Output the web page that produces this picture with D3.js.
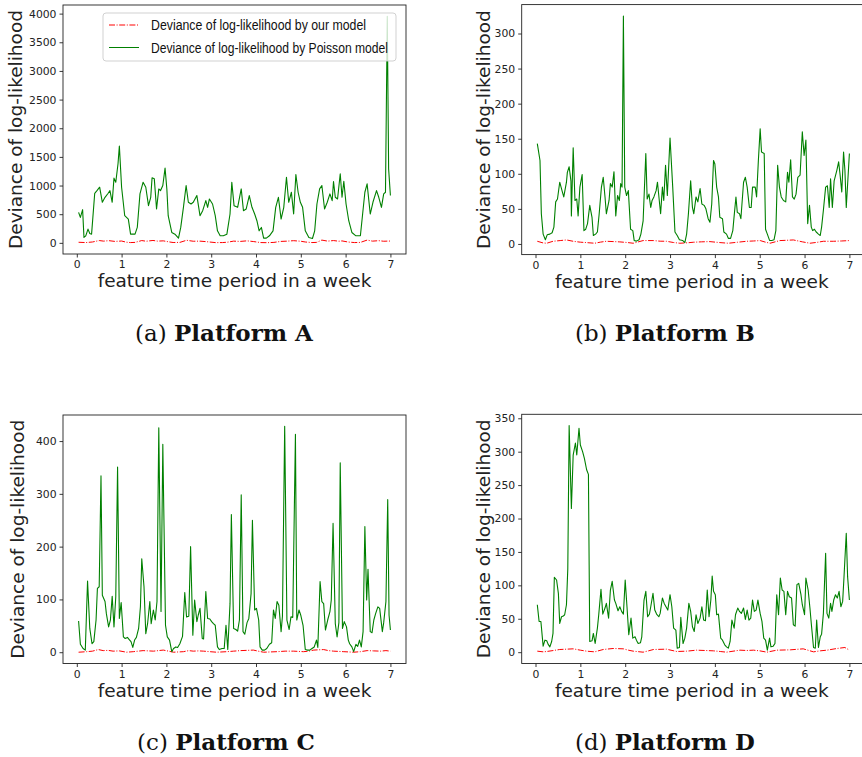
<!DOCTYPE html>
<html><head><meta charset="utf-8">
<script src="https://cdn.jsdelivr.net/npm/d3@7"></script>
<style>body{margin:0;background:#fff}</style>
</head><body>
<svg id="c" width="862" height="757" xmlns="http://www.w3.org/2000/svg"></svg>
<script>
// ---------------- data ----------------
const xTicks = [0,1,2,3,4,5,6,7];
const yTicksA = [0,500,1000,1500,2000,2500,3000,3500,4000];
const yTicksB = [0,50,100,150,200,250,300];
const yTicksC = [0,100,200,300,400];
const yTicksD = [0,50,100,150,200,250,300,350];
const legendLabels = ["Deviance of log-likelihood by our model","Deviance of log-likelihood by Poisson model"];
const xLabel = "feature time period in a week";
const yLabel = "Deviance of log-likelihood";
const captionPrefix = ["(a) ","(b) ","(c) ","(d) "];
const captionName = ["Platform A","Platform B","Platform C","Platform D"];

// Platform A
const aPoissonX = [0.04,0.08,0.13,0.16,0.20,0.25,0.29,0.33,0.40,0.45,0.51,0.57,0.63,0.70,0.74,0.79,0.83,0.87,0.92,0.95,1.00,1.07,1.15,1.20,1.30,1.35,1.41,1.48,1.54,1.60,1.65,1.68,1.73,1.78,1.83,1.87,1.92,1.97,2.01,2.04,2.12,2.19,2.27,2.32,2.38,2.44,2.49,2.55,2.60,2.68,2.75,2.81,2.88,2.92,2.96,3.03,3.09,3.14,3.20,3.27,3.35,3.42,3.46,3.51,3.59,3.67,3.72,3.78,3.85,3.91,3.97,4.02,4.07,4.12,4.17,4.23,4.30,4.38,4.44,4.50,4.56,4.62,4.68,4.73,4.79,4.84,4.89,4.94,4.99,5.04,5.10,5.18,5.26,5.31,5.36,5.42,5.47,5.53,5.59,5.65,5.70,5.73,5.77,5.82,5.88,5.92,5.96,6.01,6.07,6.14,6.23,6.33,6.38,6.43,6.48,6.55,6.61,6.69,6.74,6.80,6.85,6.89,6.93,6.96,7.00];
const aPoisson = [532,444,579,94,123,240,164,152,865,912,971,708,795,865,912,708,1129,1058,1380,1690,971,474,415,152,152,269,854,1058,971,649,795,1134,1117,590,941,912,1000,1304,941,474,181,152,82,269,620,1000,708,678,708,825,474,561,737,620,766,678,474,210,123,123,152,503,1058,649,620,941,561,590,825,620,503,386,210,269,82,82,123,210,620,795,415,620,1146,708,883,503,1193,883,708,620,210,94,76,210,678,941,1000,590,708,854,737,1070,795,766,1205,795,1076,678,386,181,123,123,503,883,1029,503,708,912,795,620,854,883,3953,1292,825];
const aOurX = [0.04,0.2,0.35,0.5,0.6,0.72,0.85,1.0,1.1,1.2,1.3,1.45,1.55,1.7,1.8,1.93,2.05,2.15,2.3,2.45,2.6,2.75,2.9,3.1,3.25,3.35,3.5,3.65,3.8,3.95,4.1,4.25,4.4,4.55,4.7,4.84,5.0,5.1,5.25,5.35,5.47,5.6,5.73,5.85,5.92,6.05,6.2,6.33,6.48,6.6,6.74,6.85,7.0];
const aOur = [10,5,15,40,30,38,25,32,12,5,8,40,28,42,30,35,18,6,8,45,28,30,20,4,5,10,30,25,35,22,5,3,8,25,30,38,28,15,5,8,48,30,40,28,34,15,5,8,48,30,38,28,32];

// Platform B
const bPoissonX = [0.04,0.10,0.13,0.17,0.22,0.26,0.32,0.37,0.41,0.45,0.49,0.54,0.60,0.63,0.69,0.71,0.75,0.79,0.80,0.84,0.88,0.92,0.95,0.99,1.04,1.08,1.12,1.16,1.21,1.26,1.29,1.34,1.38,1.42,1.47,1.51,1.55,1.58,1.64,1.67,1.71,1.75,1.79,1.83,1.87,1.90,1.93,1.96,1.99,2.03,2.07,2.12,2.17,2.20,2.25,2.31,2.35,2.40,2.46,2.49,2.53,2.57,2.60,2.64,2.69,2.72,2.76,2.79,2.83,2.86,2.90,2.94,3.00,3.06,3.11,3.16,3.21,3.28,3.33,3.37,3.41,3.46,3.50,3.53,3.58,3.62,3.67,3.71,3.76,3.80,3.85,3.89,3.93,3.97,4.00,4.04,4.08,4.11,4.17,4.20,4.26,4.30,4.35,4.40,4.43,4.47,4.50,4.55,4.58,4.64,4.68,4.72,4.77,4.81,4.84,4.90,4.93,4.97,5.01,5.04,5.10,5.13,5.17,5.22,5.27,5.32,5.36,5.40,5.44,5.48,5.53,5.58,5.62,5.65,5.69,5.73,5.77,5.81,5.85,5.90,5.95,5.99,6.03,6.07,6.11,6.15,6.18,6.22,6.26,6.31,6.35,6.38,6.42,6.47,6.51,6.55,6.58,6.62,6.66,6.72,6.76,6.79,6.83,6.87,6.90,6.93,7.00];
const bPoisson = [143,119,43,14,6,13,14,16,24,60,64,88,74,67,88,102,110,90,40,137,62,64,40,81,99,19,21,29,55,38,12,14,17,43,81,95,67,43,62,86,81,103,40,69,62,86,81,325,81,69,76,21,19,5,4,6,14,33,129,64,71,52,62,67,76,88,62,43,81,62,112,69,151,81,17,12,6,5,2,14,43,90,52,43,67,60,79,57,55,50,36,31,57,119,114,81,67,38,36,17,14,8,8,19,40,67,45,43,36,88,95,81,52,52,81,81,67,119,164,131,129,21,14,5,5,6,19,112,81,67,62,60,102,88,120,67,64,71,95,98,160,126,148,29,55,24,19,21,17,14,12,24,48,81,83,52,93,52,90,105,117,100,74,131,105,52,129];
const bOurX = [0.04,0.17,0.25,0.39,0.55,0.69,0.84,1.0,1.14,1.32,1.45,1.58,1.75,1.88,2.05,2.18,2.4,2.63,2.78,2.92,3.08,3.22,3.38,3.52,3.7,3.89,4.1,4.3,4.5,4.71,4.86,5.01,5.13,5.23,5.45,5.6,5.75,5.95,6.12,6.27,6.42,6.64,6.82,7.0];
const bOur = [3.8,1.4,1.0,3.8,4.8,5.7,3.8,2.5,1.9,1.0,2.6,3.8,3.3,2.9,2.0,1.0,4.8,4.8,3.9,3.8,2.0,1.0,1.6,2.4,3.0,3.3,2.0,1.0,2.4,3.8,4.2,4.8,2.5,1.0,4.8,5.2,5.7,3.0,1.0,2.2,3.8,3.8,4.2,4.8];

// Platform C
const cPoissonX = [0.04,0.08,0.14,0.19,0.24,0.29,0.34,0.38,0.43,0.46,0.50,0.54,0.57,0.63,0.66,0.71,0.75,0.79,0.83,0.87,0.91,0.95,0.99,1.04,1.08,1.13,1.17,1.21,1.25,1.29,1.33,1.38,1.42,1.45,1.50,1.54,1.58,1.63,1.66,1.71,1.75,1.79,1.83,1.88,1.92,1.98,2.02,2.07,2.12,2.16,2.21,2.25,2.30,2.36,2.41,2.45,2.50,2.54,2.59,2.63,2.68,2.71,2.75,2.80,2.83,2.88,2.92,2.97,3.01,3.05,3.09,3.14,3.18,3.24,3.29,3.33,3.37,3.42,3.45,3.50,3.55,3.59,3.63,3.67,3.71,3.75,3.80,3.84,3.89,3.92,3.97,4.01,4.06,4.09,4.14,4.19,4.24,4.30,4.35,4.39,4.43,4.47,4.51,4.56,4.59,4.64,4.69,4.74,4.78,4.82,4.88,4.91,4.96,5.00,5.05,5.10,5.15,5.20,5.25,5.30,5.35,5.38,5.43,5.47,5.51,5.55,5.60,5.65,5.68,5.72,5.77,5.81,5.85,5.88,5.93,5.97,6.02,6.06,6.09,6.14,6.18,6.23,6.27,6.31,6.35,6.39,6.43,6.47,6.50,6.55,6.59,6.63,6.67,6.72,6.76,6.82,6.85,6.90,6.94,6.97,7.00];
const cPoisson = [59,15,7,4,135,45,16,20,61,121,124,334,108,96,73,48,61,106,48,105,351,64,94,29,26,28,24,20,9,23,28,45,86,177,124,35,54,96,54,80,61,96,425,77,394,51,29,23,1,7,10,9,16,30,113,67,68,200,32,99,58,70,83,26,25,115,64,63,58,54,51,10,5,7,7,51,5,92,261,45,43,40,61,298,39,34,56,64,111,250,80,83,61,10,4,4,7,15,18,80,64,96,89,39,68,428,61,43,67,66,413,61,80,70,51,5,4,4,7,10,23,9,134,96,92,42,61,77,99,244,54,29,56,359,45,58,48,23,16,10,1,15,11,23,10,39,238,99,157,39,37,61,73,86,83,39,56,96,289,70,42];
const cOurX = [0.04,0.22,0.35,0.48,0.59,0.7,0.81,0.95,1.11,1.26,1.37,1.48,1.6,1.71,1.82,1.93,2.05,2.16,2.38,2.5,2.6,2.72,2.83,2.97,3.12,3.35,3.5,3.65,3.8,3.94,4.05,4.17,4.47,4.65,4.84,5.06,5.18,5.29,5.51,5.62,5.73,5.96,6.18,6.33,6.48,6.62,6.78,6.9,7.0];
const cOur = [0,1,2,5,3,3.5,2,2.5,0,1,2,3,2.5,2,3,4,2,0,1,3,2,2.5,2,1,0,1,2,3,3.5,4,2,0,1,2,2,1,2,4,5,3,2,1,0,1,3,2.5,2,3,2];

// Platform D
const dPoissonX = [0.04,0.08,0.12,0.17,0.21,0.25,0.28,0.32,0.36,0.39,0.42,0.47,0.51,0.54,0.58,0.62,0.65,0.69,0.72,0.75,0.80,0.84,0.89,0.92,0.97,1.00,1.05,1.09,1.14,1.18,1.21,1.26,1.29,1.33,1.38,1.41,1.46,1.50,1.55,1.58,1.63,1.67,1.71,1.76,1.79,1.84,1.88,1.92,1.96,2.00,2.04,2.08,2.13,2.17,2.22,2.25,2.29,2.34,2.37,2.42,2.46,2.50,2.54,2.57,2.62,2.66,2.70,2.75,2.78,2.83,2.87,2.91,2.95,3.00,3.04,3.08,3.13,3.16,3.21,3.24,3.29,3.33,3.37,3.42,3.46,3.50,3.54,3.58,3.62,3.67,3.71,3.75,3.79,3.83,3.87,3.91,3.94,3.97,4.01,4.04,4.08,4.13,4.17,4.22,4.26,4.30,4.34,4.38,4.43,4.46,4.51,4.55,4.59,4.64,4.68,4.72,4.76,4.80,4.84,4.88,4.92,4.96,5.01,5.05,5.09,5.13,5.17,5.22,5.25,5.30,5.34,5.38,5.42,5.46,5.50,5.54,5.58,5.62,5.66,5.71,5.75,5.79,5.83,5.87,5.92,5.95,6.00,6.03,6.08,6.12,6.15,6.20,6.24,6.27,6.31,6.35,6.38,6.42,6.47,6.50,6.54,6.58,6.61,6.65,6.69,6.73,6.77,6.81,6.85,6.88,6.93,6.96,7.00];
const dPoisson = [71,46,46,9,18,17,12,8,16,28,112,108,88,43,53,54,56,71,125,339,215,295,313,295,335,310,300,290,273,266,16,17,28,13,36,56,94,57,66,73,51,93,106,78,73,62,68,61,57,108,68,26,51,21,23,18,13,14,23,78,91,53,57,68,88,63,57,53,58,81,73,68,63,86,68,36,33,6,7,52,13,21,36,73,61,38,31,56,43,51,68,48,47,93,53,78,114,91,86,56,57,21,18,11,8,6,16,48,36,56,66,61,58,66,49,63,48,51,78,61,63,78,58,46,21,18,3,21,8,9,13,86,56,111,93,91,56,91,83,81,41,39,101,103,86,71,56,111,93,66,43,7,6,48,7,23,27,58,148,58,51,73,61,78,86,81,91,68,76,113,178,113,78];
const dOurX = [0.04,0.17,0.25,0.4,0.54,0.7,0.84,1.0,1.14,1.32,1.51,1.73,1.96,2.07,2.18,2.4,2.52,2.63,2.92,3.15,3.37,3.59,3.78,3.97,4.12,4.26,4.56,4.71,4.86,5.0,5.16,5.38,5.68,5.97,6.2,6.35,6.5,6.72,6.9,7.0];
const dOur = [1.5,0.5,1,2.5,4,4.5,5,3,1.5,0.5,4,5.5,5,3,1.5,0,2,4,4.5,1,1.5,3,2.5,2,1,0,3,2.5,3,2,0,3,3.5,5,0.5,2,3,5.5,7,3];

// ---------------- drawing ----------------
const svg = d3.select("#c");
const panels = [
  {x0:63,   x1:406, y0:5,     y1:254,   yTicks:yTicksA, px:aPoissonX, p:aPoisson, ox:aOurX, o:aOur, ylabX:22,  capX:224, capY:341, capW:178, legend:true},
  {x0:521.7,x1:865, y0:4.6,   y1:254.6, yTicks:yTicksB, px:bPoissonX, p:bPoisson, ox:bOurX, o:bOur, ylabX:490, capX:665, capY:341, capW:180},
  {x0:63,   x1:406, y0:415,   y1:663.5, yTicks:yTicksC, px:cPoissonX, p:cPoisson, ox:cOurX, o:cOur, ylabX:24,  capX:226, capY:750, capW:178},
  {x0:521.7,x1:865, y0:414.3, y1:663.5, yTicks:yTicksD, px:dPoissonX, p:dPoisson, ox:dOurX, o:dOur, ylabX:490, capX:665, capY:750, capW:180}
];
const axisColor = "#222";

panels.forEach((P, i) => {
  const allY = P.p.concat(P.o);
  const lo = d3.min(allY), hi = d3.max(allY), pad = (hi - lo) * 0.05;
  const x = d3.scaleLinear().domain([-0.308, 7.348]).range([P.x0, P.x1]);
  const y = d3.scaleLinear().domain([lo - pad, hi + pad]).range([P.y1, P.y0]);
  const g = svg.append("g");
  const clipId = "clip" + i;
  svg.append("clipPath").attr("id", clipId).append("rect")
    .attr("x", P.x0).attr("y", P.y0).attr("width", P.x1 - P.x0).attr("height", P.y1 - P.y0);

  const line = d3.line().x(d => x(d[0])).y(d => y(d[1]));
  const ourPts = P.ox.map((v, k) => [v, P.o[k]]);
  const poiPts = P.px.map((v, k) => [v, P.p[k]]);

  g.append("path").attr("clip-path", `url(#${clipId})`).attr("d", line(ourPts))
    .attr("fill", "none").attr("stroke", "#ff0000").attr("stroke-width", 1)
    .attr("stroke-dasharray", "6,1.6,1,1.6");
  g.append("path").attr("clip-path", `url(#${clipId})`).attr("d", line(poiPts))
    .attr("fill", "none").attr("stroke", "#008000").attr("stroke-width", 1.1)
    .attr("stroke-linejoin", "round");

  // axes
  const xa = g.append("g").attr("transform", `translate(0,${P.y1})`)
    .call(d3.axisBottom(x).tickValues(xTicks).tickSize(3.5).tickPadding(3).tickFormat(d3.format("d")));
  const ya = g.append("g").attr("transform", `translate(${P.x0},0)`)
    .call(d3.axisLeft(y).tickValues(P.yTicks).tickSize(3.5).tickPadding(3).tickFormat(d3.format("d")));
  [xa, ya].forEach(a => {
    a.select(".domain").remove();
    a.selectAll("line").attr("stroke", axisColor).attr("stroke-width", 0.9);
    a.selectAll("text").attr("fill", axisColor).style("font-family", "DejaVu Sans").style("font-size", "10.8px");
  });

  // frame
  g.append("rect").attr("x", P.x0).attr("y", P.y0).attr("width", P.x1 - P.x0).attr("height", P.y1 - P.y0)
    .attr("fill", "none").attr("stroke", axisColor).attr("stroke-width", 0.9);

  // labels
  g.append("text").attr("x", (P.x0 + P.x1) / 2 - (P.x0 > 400 ? 1.5 : 0)).attr("y", P.y1 + 33)
    .attr("text-anchor", "middle").style("font-family", "DejaVu Sans").style("font-size", "18.5px")
    .attr("fill", axisColor).text(xLabel);
  g.append("text").attr("transform", `translate(${P.ylabX},${(P.y0 + P.y1) / 2}) rotate(-90)`)
    .attr("text-anchor", "middle").style("font-family", "DejaVu Sans").style("font-size", "18.5px")
    .attr("fill", axisColor).text(yLabel);

  // caption
  const cap = svg.append("text").attr("x", P.capX).attr("y", P.capY).attr("text-anchor", "middle")
    .style("font-family", "DejaVu Serif").style("font-size", "21px").attr("fill", "#111");
  cap.append("tspan").text(captionPrefix[i]);
  cap.append("tspan").style("font-weight", "bold").text(captionName[i]);
  const w = cap.node().getComputedTextLength();
  cap.style("font-size", (21 * P.capW / w) + "px");

  if (P.legend) {
    const lg = svg.append("g");
    lg.append("rect").attr("x", 103).attr("y", 13).attr("width", 293).attr("height", 48).attr("rx", 3)
      .attr("fill", "#fff").attr("fill-opacity", 0.8).attr("stroke", "#cccccc").attr("stroke-width", 0.9);
    const rows = [
      {y: 25, color: "#ff0000", dash: "6,1.6,1,1.6", text: legendLabels[0], len: 215},
      {y: 47.5, color: "#008000", dash: null, text: legendLabels[1], len: 237}
    ];
    rows.forEach(r => {
      lg.append("line").attr("x1", 109).attr("x2", 139).attr("y1", r.y).attr("y2", r.y)
        .attr("stroke", r.color).attr("stroke-width", 1).attr("stroke-dasharray", r.dash);
      lg.append("text").attr("x", 151).attr("y", r.y + 5).style("font-family", "Liberation Sans")
        .style("font-size", "14px").attr("fill", "#111")
        .attr("textLength", r.len).attr("lengthAdjust", "spacingAndGlyphs").text(r.text);
    });
  }
});
</script>
</body></html>
